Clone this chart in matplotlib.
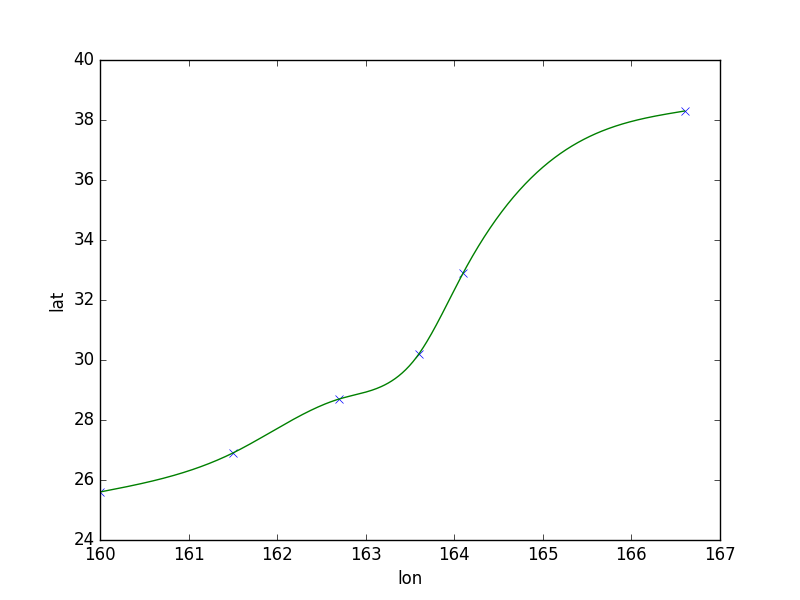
import numpy as np
import matplotlib
matplotlib.use('Agg')
import matplotlib.pyplot as plt

plt.style.use('classic')

lon = [160.0, 161.5, 162.7, 163.6, 164.1, 166.6]
lat = [25.6, 26.9, 28.7, 30.2, 32.9, 38.3]


def natural_spline(x, y, xs):
    x = np.asarray(x, float)
    y = np.asarray(y, float)
    n = len(x)
    h = np.diff(x)
    A = np.zeros((n, n))
    b = np.zeros(n)
    A[0, 0] = 1
    A[-1, -1] = 1
    for i in range(1, n - 1):
        A[i, i - 1] = h[i - 1]
        A[i, i] = 2 * (h[i - 1] + h[i])
        A[i, i + 1] = h[i]
        b[i] = 6 * ((y[i + 1] - y[i]) / h[i] - (y[i] - y[i - 1]) / h[i - 1])
    M = np.linalg.solve(A, b)
    idx = np.clip(np.searchsorted(x, xs) - 1, 0, n - 2)
    x0, x1 = x[idx], x[idx + 1]
    hh = x1 - x0
    t0 = x1 - xs
    t1 = xs - x0
    return (M[idx] * t0**3 / (6 * hh) + M[idx + 1] * t1**3 / (6 * hh)
            + (y[idx] / hh - M[idx] * hh / 6) * t0
            + (y[idx + 1] / hh - M[idx + 1] * hh / 6) * t1)


xs = np.linspace(lon[0], lon[-1], 500)
ys = natural_spline(lon, lat, xs)

fig = plt.figure(figsize=(8, 6), dpi=100)
plt.plot(lon, lat, 'bx')
plt.plot(xs, ys, 'g-')
plt.xlim(160, 167)
plt.ylim(24, 40)
plt.gca().ticklabel_format(useOffset=False)
plt.xlabel('lon')
plt.ylabel('lat')
plt.savefig('out.png', dpi=100)
